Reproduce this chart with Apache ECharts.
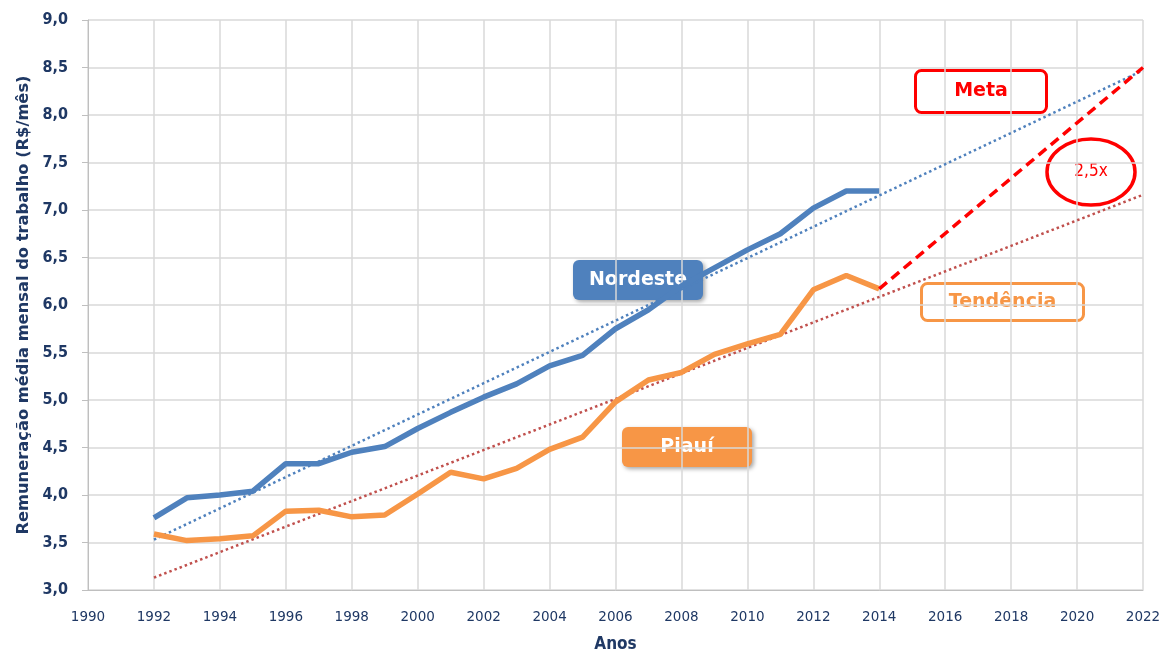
<!DOCTYPE html>
<html>
<head>
<meta charset="utf-8">
<script src="https://cdn.jsdelivr.net/npm/echarts@6/dist/echarts.min.js"></script>
<style>
html,body{margin:0;padding:0;background:#fff}
#chart{width:1162px;height:652px}
</style>
</head>
<body>
<div id="chart"></div>
<script>
// anos e valores
let anos = [1992,1993,1994,1995,1996,1997,1998,1999,2000,2001,2002,2003,2004,2005,2006,2007,2008,2009,2010,2011,2012,2013,2014]
let nordeste = [3.76,3.97,4.00,4.04,4.33,4.33,4.45,4.51,4.70,4.87,5.03,5.17,5.36,5.47,5.75,5.95,6.20,6.39,6.58,6.75,7.02,7.20,7.20]
let piaui = [3.59,3.52,3.54,3.57,3.83,3.84,3.77,3.79,4.01,4.24,4.17,4.28,4.48,4.61,4.98,5.21,5.29,5.48,5.59,5.69,6.16,6.31,6.17]
let anosTend = [1992,2022]
let tendNordeste = [3.53,8.47]
let tendPiaui = [3.13,7.16]
let anosMeta = [2014,2022]
let meta = [6.17,8.5]

let azul = "#4f81bd"
let laranja = "#f79646"
let navy = "#1f3864"
let font = "'DejaVu Sans Condensed','Liberation Sans',sans-serif"

function pares(xs,ys){
    let out = []
    for(let i=0;i<xs.length;i++) out.push([xs[i],ys[i]])
    return out
}

function caixa(x,y,w,h,texto,fill,stroke,cor,size,sombra){
    return {
        type:"group",
        left:x, top:y,
        children:[
            {type:"rect",shape:{x:0,y:0,width:w,height:h,r:6},
             style:{fill:fill,stroke:stroke,lineWidth:stroke?3:0,
                    shadowBlur:sombra?4:0,shadowOffsetX:sombra?2:0,shadowOffsetY:sombra?2:0,shadowColor:"rgba(0,0,0,0.35)"}},
            {type:"text",style:{x:w/2,y:h/2,text:texto,fill:cor,font:"bold "+size+"px 'DejaVu Sans','Open Sans',sans-serif",align:"center",verticalAlign:"middle"}}
        ]
    }
}

var myChart = echarts.init(document.getElementById("chart"))
var option = {
    animation:false,
    backgroundColor:"#fff",
    grid:{left:88,right:19,top:20,bottom:62,outerBoundsMode:"none"},
    xAxis:{
        type:"value",min:1990,max:2022,interval:2,
        name:"Anos",nameLocation:"middle",nameGap:46,
        nameTextStyle:{fontSize:17,fontWeight:"bold",color:navy,fontFamily:font},
        axisLine:{show:true,lineStyle:{color:"#bfbfbf"}},
        axisTick:{show:false},
        axisLabel:{color:navy,fontSize:13.5,fontFamily:"'DejaVu Sans',sans-serif",margin:20,
            formatter:function(v){return String(v)}},
        splitLine:{show:true,lineStyle:{color:"#d9d9d9",width:1.5}}
    },
    yAxis:{
        type:"value",min:3,max:9,interval:0.5,
        name:"Remuneração média mensal do trabalho (R$/mês)",nameLocation:"middle",nameGap:56,
        nameTextStyle:{fontSize:16.3,fontWeight:"bold",color:navy,fontFamily:"'DejaVu Sans',sans-serif"},
        axisLine:{show:true,lineStyle:{color:"#bfbfbf"}},
        axisTick:{show:true,length:6,lineStyle:{color:"#bfbfbf"}},
        axisLabel:{color:navy,fontSize:16,fontWeight:"bold",fontFamily:font,margin:20,
            formatter:function(v){return v.toFixed(1).replace(".",",")}},
        splitLine:{show:true,lineStyle:{color:"#d9d9d9",width:1.5}}
    },
    series:[
        {name:"Tendência Nordeste",type:"line",data:pares(anosTend,tendNordeste),symbol:"none",
         lineStyle:{color:azul,width:2.5,type:[2.5,3]},z:2},
        {name:"Tendência Piauí",type:"line",data:pares(anosTend,tendPiaui),symbol:"none",
         lineStyle:{color:"#c0504d",width:2.5,type:[2.5,3]},z:2},
        {name:"Nordeste",type:"line",data:pares(anos,nordeste),symbol:"none",
         lineStyle:{color:azul,width:5.5},z:3},
        {name:"Piauí",type:"line",data:pares(anos,piaui),symbol:"none",
         lineStyle:{color:laranja,width:5.5},z:3},
        {name:"Meta",type:"line",data:pares(anosMeta,meta),symbol:"none",
         lineStyle:{color:"#ff0000",width:3.5,type:[10,6]},z:4}
    ],
    graphic:[
        caixa(573,260,130,40,"Nordeste",azul,null,"#fff",19,true),
        caixa(622,427,130,40,"Piauí",laranja,null,"#fff",19,true),
        caixa(914,69,131,42,"Meta","#fff","#ff0000","#ff0000",19,false),
        caixa(920,282,162,37,"Tendência","#fff",laranja,laranja,19,false),
        {type:"ellipse",shape:{cx:1091,cy:172,rx:44,ry:33},style:{fill:"#fff",stroke:"#ff0000",lineWidth:3.5}},
        {type:"text",style:{x:1091,y:172,text:"2,5x",fill:"#ff0000",font:"17px 'DejaVu Sans Condensed',sans-serif",align:"center",verticalAlign:"middle"}}
    ]
}
myChart.setOption(option)
</script>
</body>
</html>
